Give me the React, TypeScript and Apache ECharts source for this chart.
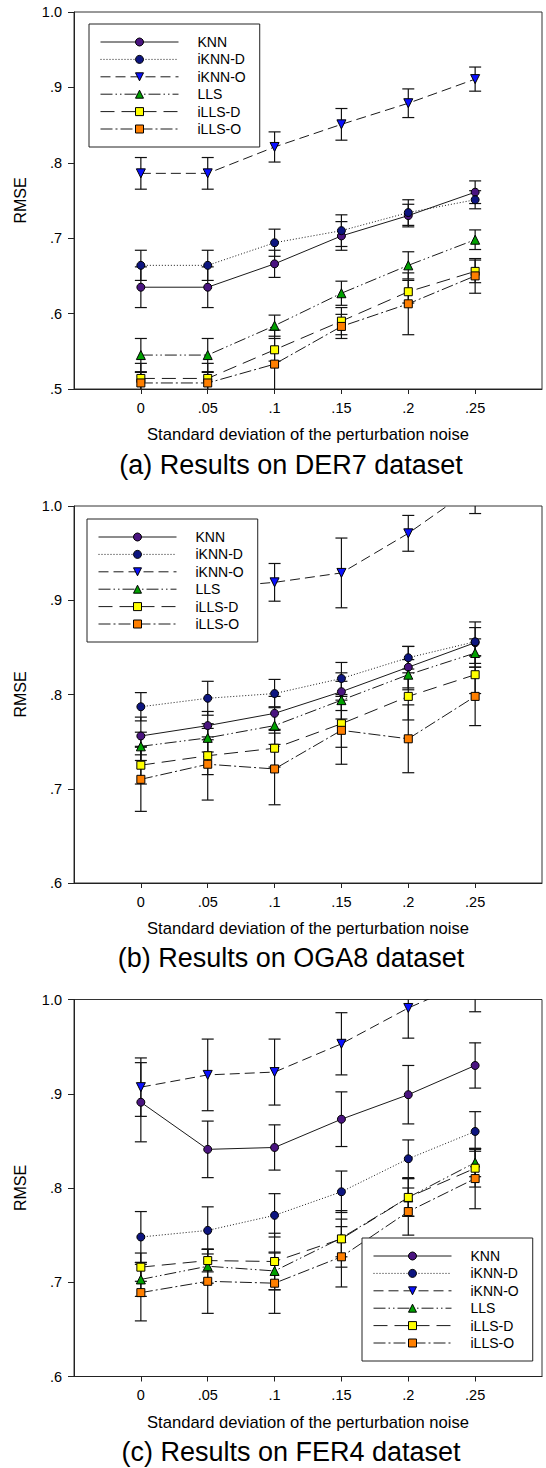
import React, { useEffect, useRef } from "react";
import * as echarts from "echarts";

// ---------- data ----------
const noise = [0, 0.05, 0.1, 0.15, 0.2, 0.25];
const xTickValues = [0, 0.05, 0.1, 0.15, 0.2, 0.25];
const methods = ["KNN", "iKNN-D", "iKNN-O", "LLS", "iLLS-D", "iLLS-O"];
const captions = [
  "(a) Results on DER7 dataset",
  "(b) Results on OGA8 dataset",
  "(c) Results on FER4 dataset",
];
const yMins = [0.5, 0.6, 0.6];
const yMax = 1.0;

// (a) DER7
const derKNN = [0.635, 0.635, 0.666, 0.703, 0.73, 0.761];
const derKNNErr = [0.027, 0.027, 0.018, 0.019, 0.015, 0.015];
const derIKNND = [0.664, 0.664, 0.694, 0.71, 0.734, 0.751];
const derIKNNDErr = [0.02, 0.02, 0.018, 0.021, 0.017, 0.012];
const derIKNNO = [0.786, 0.786, 0.821, 0.851, 0.879, 0.911];
const derIKNNOErr = [0.021, 0.021, 0.02, 0.021, 0.019, 0.016];
const derLLS = [0.545, 0.545, 0.584, 0.627, 0.664, 0.698];
const derLLSErr = [0.022, 0.022, 0.014, 0.016, 0.018, 0.013];
const derILLSD = [0.514, 0.514, 0.552, 0.59, 0.629, 0.656];
const derILLSDErr = [0.02, 0.02, 0.015, 0.018, 0.015, 0.015];
const derILLSO = [0.508, 0.508, 0.533, 0.583, 0.613, 0.65];
const derILLSOErr = [0.014, 0.014, 0.045, 0.016, 0.041, 0.023];

// (b) OGA8
const ogaKNN = [0.756, 0.767, 0.78, 0.803, 0.829, 0.855];
const ogaKNNErr = [0.02, 0.015, 0.018, 0.02, 0.022, 0.022];
const ogaIKNND = [0.787, 0.796, 0.801, 0.817, 0.839, 0.856];
const ogaIKNNDErr = [0.015, 0.018, 0.015, 0.017, 0.012, 0.015];
const ogaIKNNO = [0.905, 0.913, 0.919, 0.929, 0.971, 1.021];
const ogaIKNNOErr = [0.02, 0.02, 0.02, 0.037, 0.019, 0.029];
const ogaLLS = [0.745, 0.754, 0.767, 0.794, 0.821, 0.844];
const ogaLLSErr = [0.015, 0.015, 0.02, 0.02, 0.016, 0.015];
const ogaILLSD = [0.725, 0.735, 0.743, 0.769, 0.798, 0.821];
const ogaILLSDErr = [0.02, 0.02, 0.02, 0.025, 0.025, 0.02];
const ogaILLSO = [0.71, 0.726, 0.721, 0.762, 0.753, 0.798];
const ogaILLSOErr = [0.034, 0.038, 0.038, 0.036, 0.036, 0.031];

// (c) FER4
const ferKNN = [0.891, 0.841, 0.843, 0.873, 0.899, 0.93];
const ferKNNErr = [0.042, 0.03, 0.024, 0.029, 0.031, 0.024];
const ferIKNND = [0.748, 0.755, 0.771, 0.796, 0.831, 0.86];
const ferIKNNDErr = [0.027, 0.025, 0.023, 0.022, 0.02, 0.021];
const ferIKNNO = [0.907, 0.92, 0.923, 0.953, 0.991, 1.022];
const ferIKNNOErr = [0.031, 0.038, 0.035, 0.033, 0.032, 0.035];
const ferLLS = [0.703, 0.717, 0.712, 0.747, 0.79, 0.827];
const ferLLSErr = [0.018, 0.018, 0.02, 0.02, 0.02, 0.015];
const ferILLSD = [0.716, 0.723, 0.722, 0.746, 0.79, 0.821];
const ferILLSDErr = [0.015, 0.012, 0.03, 0.03, 0.02, 0.02];
const ferILLSO = [0.689, 0.701, 0.699, 0.727, 0.775, 0.81];
const ferILLSOErr = [0.03, 0.034, 0.032, 0.032, 0.025, 0.032];

const panelValues = [
  [derKNN, derIKNND, derIKNNO, derLLS, derILLSD, derILLSO],
  [ogaKNN, ogaIKNND, ogaIKNNO, ogaLLS, ogaILLSD, ogaILLSO],
  [ferKNN, ferIKNND, ferIKNNO, ferLLS, ferILLSD, ferILLSO],
];
const panelErrors = [
  [derKNNErr, derIKNNDErr, derIKNNOErr, derLLSErr, derILLSDErr, derILLSOErr],
  [ogaKNNErr, ogaIKNNDErr, ogaIKNNOErr, ogaLLSErr, ogaILLSDErr, ogaILLSOErr],
  [ferKNNErr, ferIKNNDErr, ferIKNNOErr, ferLLSErr, ferILLSDErr, ferILLSOErr],
];

// ---------- styles / layout ----------
const FONT = "'Liberation Sans', Arial, Helvetica, sans-serif";
const LINE_COLOR = "#1a1a1a";
const methodStyles: any[] = [
  { symbol: "circle", size: 8, rotate: 0, fill: "#4a1480", dash: "solid" },
  { symbol: "circle", size: 8, rotate: 0, fill: "#0d1580", dash: [1, 2] },
  { symbol: "triangle", size: 9, rotate: 180, fill: "#0a10ff", dash: [10, 5] },
  { symbol: "triangle", size: 9, rotate: 0, fill: "#00a000", dash: [12, 3, 1.5, 3, 1.5, 3] },
  { symbol: "rect", size: 8, rotate: 0, fill: "#ffff00", dash: [14, 7] },
  { symbol: "rect", size: 8, rotate: 0, fill: "#ff7f00", dash: [12, 3, 2, 3] },
];
const gridTops = [12, 506, 999.5];
const GRID_LEFT = 74;
const GRID_WIDTH = 468;
const GRID_HEIGHT = 377;
const legendPos = [
  { left: 89, top: 24 },
  { left: 87, top: 519 },
  { left: 362, top: 1238 },
];
const captionY = [465, 958, 1452];
const CAPTION_X = 291;

function fmtY(v: number) {
  if (v >= 0.999) return "1.0";
  return "." + Math.round(v * 10);
}
function fmtX(v: number) {
  if (Math.abs(v) < 1e-9) return "0";
  return String(+v.toFixed(2)).replace(/^0/, "");
}

function errRender(params: any, api: any) {
  const x = api.value(0);
  const lo = api.value(1);
  const hi = api.value(2);
  const cs = params.coordSys;
  const top = cs.y;
  const bot = cs.y + cs.height;
  const pHi = api.coord([x, hi]);
  const pLo = api.coord([x, lo]);
  const y1 = Math.max(pHi[1], top);
  const y2 = Math.min(pLo[1], bot);
  const st = { stroke: "#111", lineWidth: 1.2 };
  const hw = 6;
  const children: any[] = [];
  if (y2 > y1) {
    children.push({ type: "line", shape: { x1: pLo[0], y1, x2: pLo[0], y2 }, style: st });
  }
  [pHi, pLo].forEach((p) => {
    if (p[1] >= top - 0.5 && p[1] <= bot + 0.5) {
      children.push({
        type: "line",
        shape: { x1: p[0] - hw, y1: p[1], x2: p[0] + hw, y2: p[1] },
        style: st,
      });
    }
  });
  return { type: "group", children };
}

function buildOption() {
  const grid: any[] = [];
  const xAxis: any[] = [];
  const yAxis: any[] = [];
  const series: any[] = [];
  const legend: any[] = [];
  const graphic: any[] = [];

  for (let p = 0; p < 3; p++) {
    grid.push({
      left: GRID_LEFT,
      top: gridTops[p],
      width: GRID_WIDTH,
      height: GRID_HEIGHT,
      show: true,
      borderColor: "#333",
      borderWidth: 1,
      backgroundColor: "transparent",
    });
    xAxis.push({
      type: "value",
      gridIndex: p,
      min: -0.05,
      max: 0.3,
      interval: 0.05,
      name: "Standard deviation of the perturbation noise",
      nameLocation: "middle",
      nameGap: 37,
      nameTextStyle: { fontFamily: FONT, fontSize: 16.6, color: "#000" },
      axisLine: { show: true, onZero: false, lineStyle: { color: "#222", width: 1 } },
      axisTick: {
        show: true,
        inside: false,
        length: 5,
        customValues: xTickValues,
        lineStyle: { color: "#222" },
      },
      axisLabel: {
        show: true,
        customValues: xTickValues,
        formatter: fmtX,
        margin: 11,
        fontFamily: FONT,
        fontSize: 14.5,
        color: "#000",
      },
      splitLine: { show: false },
    });
    yAxis.push({
      type: "value",
      gridIndex: p,
      min: yMins[p],
      max: yMax,
      interval: 0.1,
      name: "RMSE",
      nameLocation: "middle",
      nameGap: 46,
      nameTextStyle: { fontFamily: FONT, fontSize: 16, color: "#000" },
      axisLine: { show: true, onZero: false, lineStyle: { color: "#222", width: 1 } },
      axisTick: { show: true, inside: false, length: 6, lineStyle: { color: "#222" } },
      axisLabel: {
        formatter: fmtY,
        margin: 12,
        fontFamily: FONT,
        fontSize: 14.5,
        color: "#000",
      },
      splitLine: { show: false },
    });

    for (let m = 0; m < methods.length; m++) {
      const vals = panelValues[p][m];
      const errs = panelErrors[p][m];
      series.push({
        type: "custom",
        name: methods[m] + "-err",
        xAxisIndex: p,
        yAxisIndex: p,
        z: 2,
        silent: true,
        renderItem: errRender,
        encode: { x: 0, y: [1, 2] },
        data: noise.map((x, i) => [x, vals[i] - errs[i], vals[i] + errs[i]]),
      });
    }
    for (let m = 0; m < methods.length; m++) {
      const st = methodStyles[m];
      const vals = panelValues[p][m];
      series.push({
        type: "line",
        name: methods[m],
        xAxisIndex: p,
        yAxisIndex: p,
        z: 3,
        silent: true,
        clip: true,
        symbol: st.symbol,
        symbolSize: st.size,
        symbolRotate: st.rotate,
        showSymbol: true,
        showAllSymbol: true,
        itemStyle: { color: st.fill, borderColor: "#000", borderWidth: 1 },
        lineStyle: { color: LINE_COLOR, width: 1, type: st.dash },
        data: noise.map((x, i) => [x, vals[i]]),
      });
    }

    legend.push({
      show: true,
      orient: "vertical",
      left: legendPos[p].left,
      top: legendPos[p].top,
      padding: [11, 14, 11, 11],
      itemWidth: 78,
      itemHeight: 10,
      itemGap: 3.4,
      backgroundColor: "#fff",
      borderColor: "#222",
      borderWidth: 1,
      borderRadius: 0,
      selectedMode: false,
      z: 10,
      itemStyle: { borderColor: "#000", borderWidth: 1 },
      lineStyle: { color: LINE_COLOR, width: 1 },
      textStyle: {
        fontFamily: FONT,
        fontSize: 14,
        color: "#000",
        lineHeight: 10,
        padding: [0, 0, 0, 14],
      },
      data: methods.map((name, m) => ({
        name,
        lineStyle: { color: LINE_COLOR, width: 1, type: methodStyles[m].dash },
        itemStyle: { color: methodStyles[m].fill, borderColor: "#000", borderWidth: 1 },
      })),
    });

    graphic.push({
      type: "text",
      x: CAPTION_X,
      y: captionY[p],
      silent: true,
      style: {
        text: captions[p],
        fontFamily: FONT,
        fontSize: 27,
        fill: "#000",
        align: "center",
        verticalAlign: "middle",
      },
    });
  }

  return {
    animation: false,
    backgroundColor: "#fff",
    grid,
    xAxis,
    yAxis,
    legend,
    series,
    graphic,
  };
}

export default function App() {
  const ref = useRef<HTMLDivElement>(null);
  useEffect(() => {
    document.body.style.margin = "0";
    if (!ref.current) return;
    const chart = echarts.init(ref.current, undefined, { renderer: "svg" });
    chart.setOption(buildOption() as any);
    return () => chart.dispose();
  }, []);
  return <div ref={ref} style={{ width: 546, height: 1468, background: "#fff" }} />;
}
